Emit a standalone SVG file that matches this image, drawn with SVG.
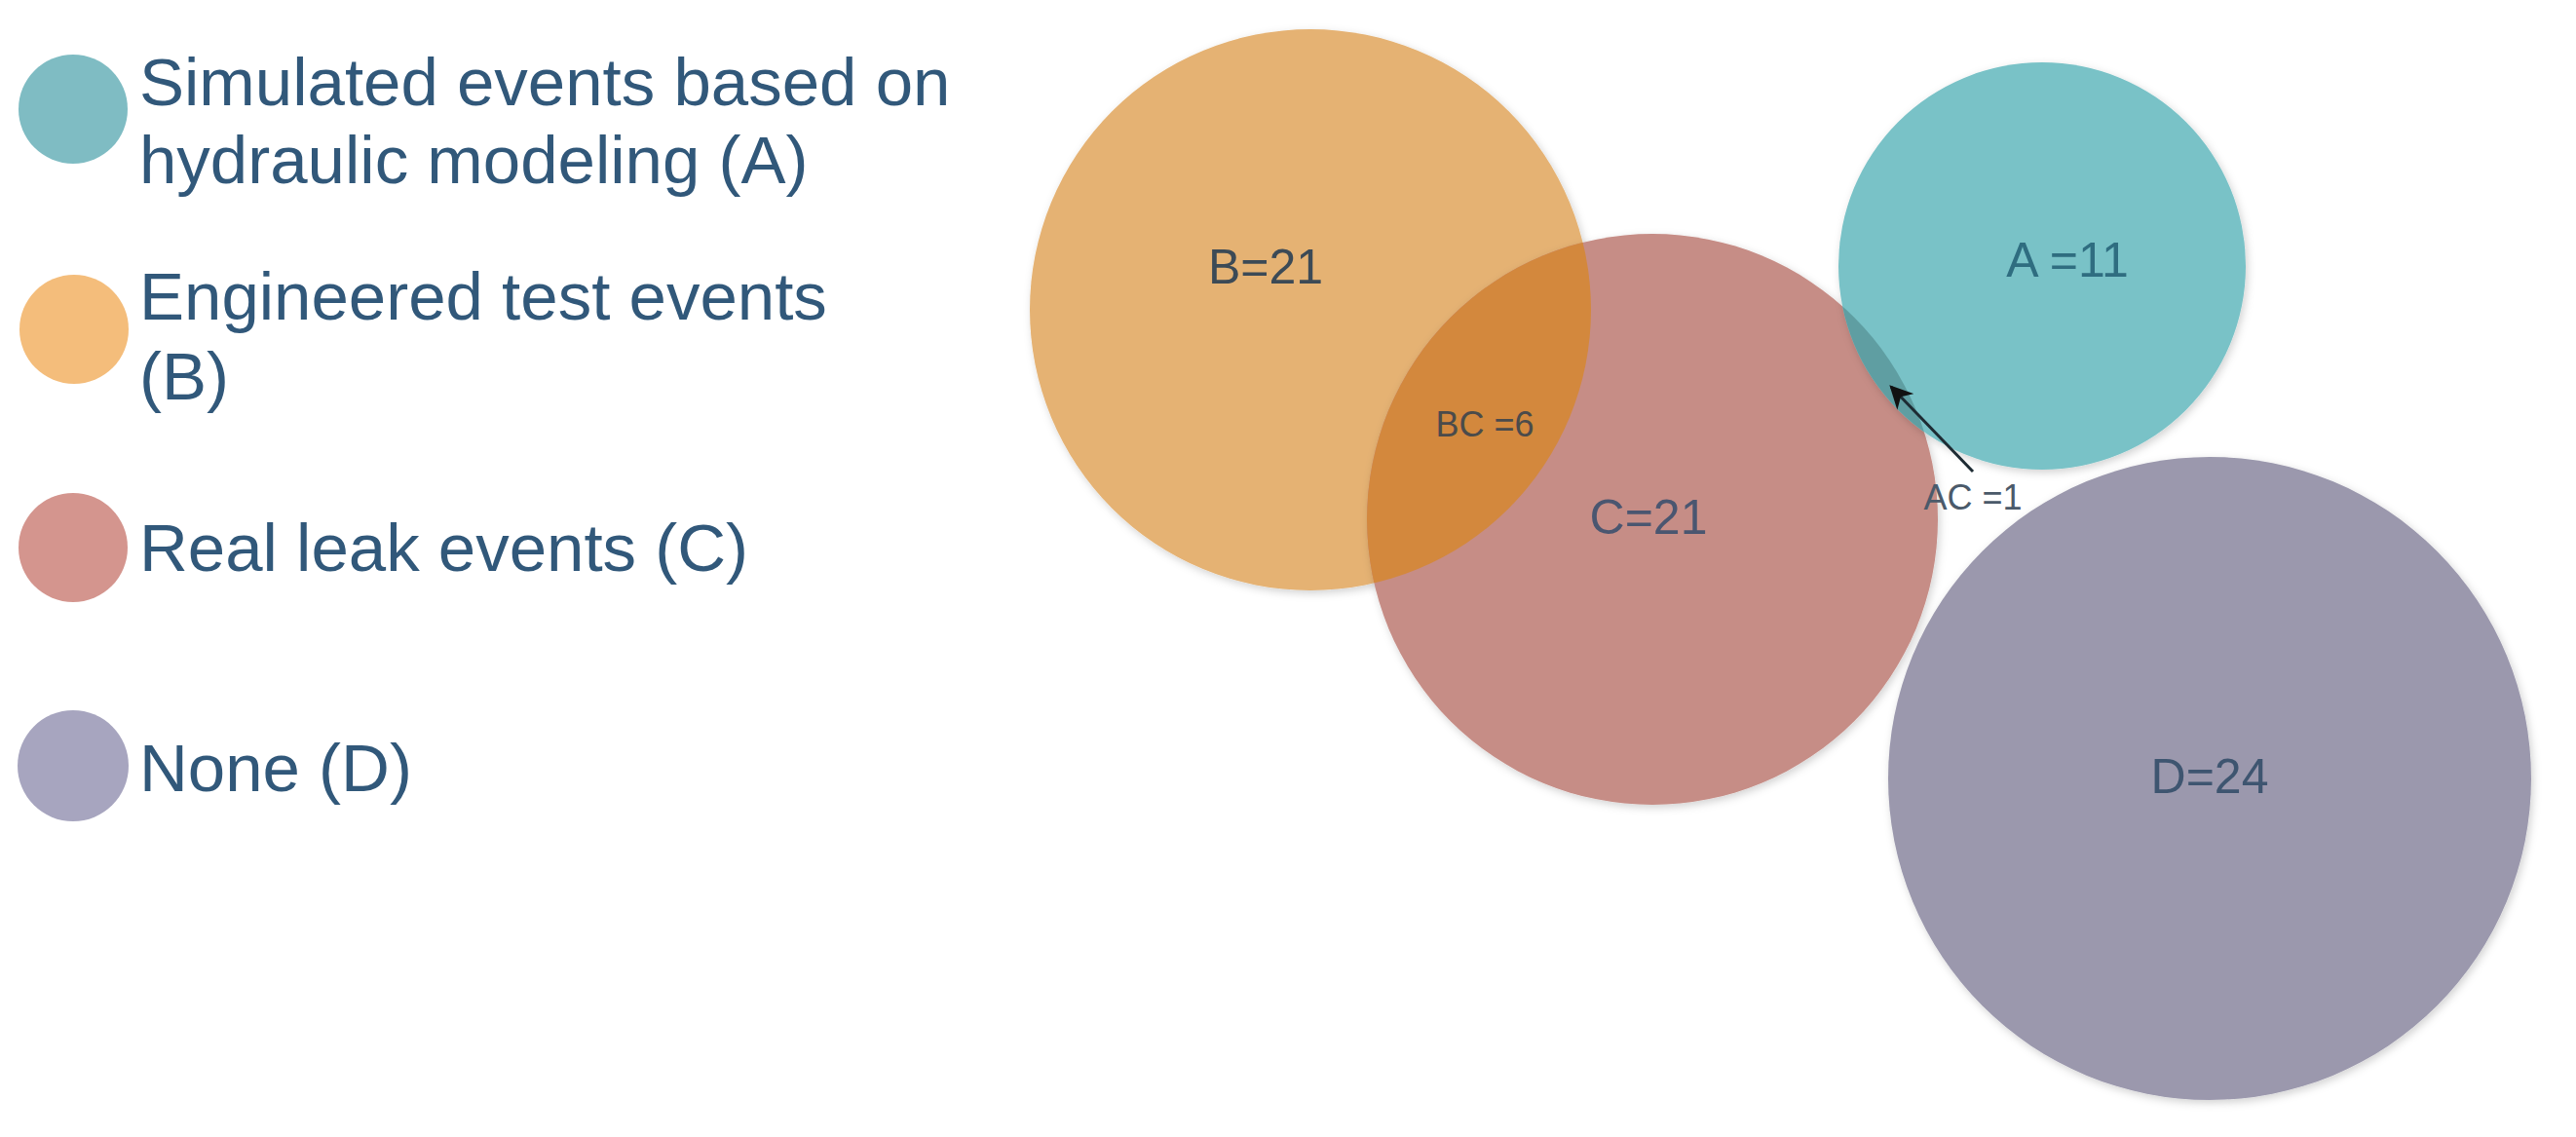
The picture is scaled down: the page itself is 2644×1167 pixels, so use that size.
<svg xmlns="http://www.w3.org/2000/svg" width="2644" height="1167" viewBox="0 0 2644 1167">
<style>
.leg{font-family:"Liberation Sans",Arial,sans-serif;font-size:69px;fill:#31587a}
.lbl{font-family:"Liberation Sans",Arial,sans-serif;font-size:50px;text-anchor:middle}
.sm{font-family:"Liberation Sans",Arial,sans-serif;font-size:36px;text-anchor:middle}
</style>
<defs>
<filter id="sh" x="-10%" y="-10%" width="120%" height="120%">
<feDropShadow dx="2" dy="3" stdDeviation="4" flood-color="#000" flood-opacity="0.18"/>
</filter>
<clipPath id="clipB"><circle cx="1345" cy="318" r="288"/></clipPath>
<clipPath id="clipA"><circle cx="2096" cy="273" r="209"/></clipPath>
<marker id="arr" viewBox="0 0 10 10" refX="9" refY="5" markerWidth="24" markerHeight="24" orient="auto" markerUnits="userSpaceOnUse">
<path d="M0,0 L10,5 L0,10 L3,5 z" fill="#111"/>
</marker>
</defs>
<rect width="2644" height="1167" fill="#fff"/>

<g id="legend">
<g id="legend-A">
<circle cx="75" cy="112" r="56" fill="#7fbcc3"/>
<text class="leg" x="143" y="108">Simulated events based on</text>
<text class="leg" x="143" y="188">hydraulic modeling (A)</text>
</g>
<g id="legend-B">
<circle cx="76" cy="338" r="56" fill="#f4bd7b"/>
<text class="leg" x="143" y="328">Engineered test events</text>
<text class="leg" x="143" y="410">(B)</text>
</g>
<g id="legend-C">
<circle cx="75" cy="562" r="56" fill="#d4958e"/>
<text class="leg" x="143" y="586">Real leak events (C)</text>
</g>
<g id="legend-D">
<circle cx="75" cy="786" r="57" fill="#a7a5bf"/>
<text class="leg" x="143" y="812">None (D)</text>
</g>
</g>

<g id="node-B">
<circle cx="1345" cy="318" r="288" fill="#e5b273" filter="url(#sh)"/>
<text class="lbl" x="1299" y="291" fill="#3c4a56">B=21</text>
</g>
<g id="node-C">
<circle cx="1696" cy="533" r="293" fill="#c68d86" filter="url(#sh)"/>
<circle cx="1696" cy="533" r="293" fill="#d3883d" clip-path="url(#clipB)"/>
<text class="lbl" x="1692" y="548" fill="#4a5670">C=21</text>
</g>
<g id="node-BC">
<text class="sm" x="1524" y="448" fill="#4b4b4b">BC =6</text>
</g>
<g id="node-A">
<circle cx="2096" cy="273" r="209" fill="#79c2c7" filter="url(#sh)"/>
<circle cx="1696" cy="533" r="293" fill="#5f9ea2" clip-path="url(#clipA)"/>
<text class="lbl" x="2122" y="284" fill="#2f6d80">A =11</text>
</g>
<g id="node-D">
<circle cx="2268" cy="799" r="330" fill="#9b98ad" filter="url(#sh)"/>
<text class="lbl" x="2268" y="814" fill="#3e5570">D=24</text>
</g>
<g id="node-AC">
<text class="sm" x="2025" y="523" fill="#4b5a6a">AC =1</text>
</g>

<g id="connectors">
<line x1="2025" y1="484" x2="1941" y2="397" stroke="#1d2b33" stroke-width="3" marker-end="url(#arr)"/>
</g>
</svg>
